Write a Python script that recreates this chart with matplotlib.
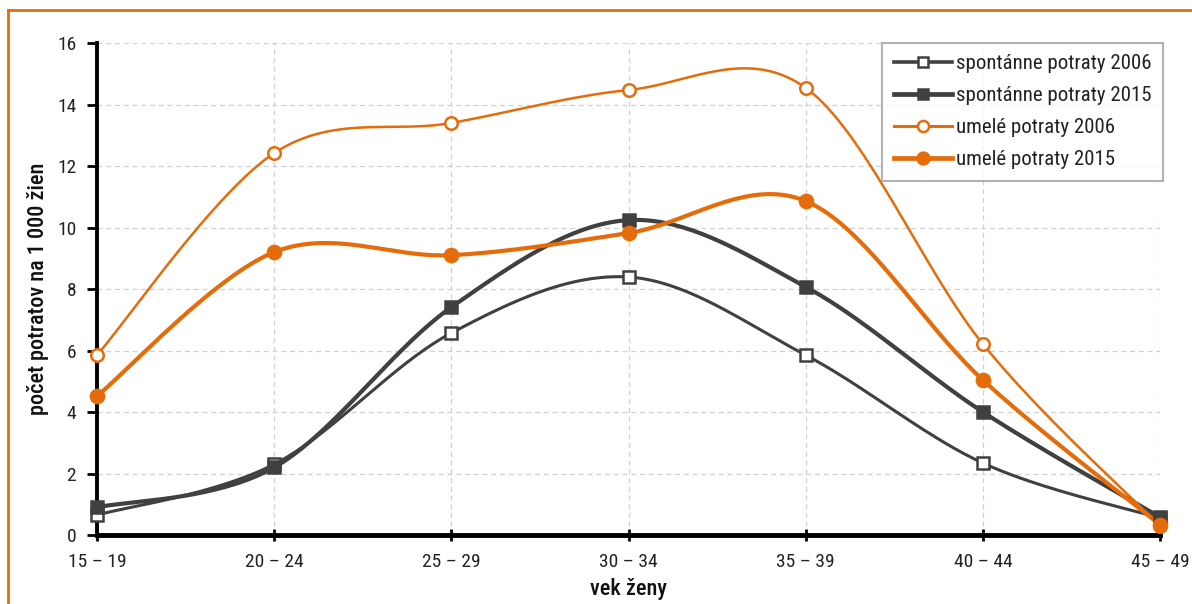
import numpy as np
import matplotlib
matplotlib.use("Agg")
import matplotlib.pyplot as plt
from matplotlib.lines import Line2D

# Data
age_groups = ["15 – 19", "20 – 24", "25 – 29", "30 – 34", "35 – 39", "40 – 44", "45 – 49"]
spont_2006 = [0.65, 2.3, 6.57, 8.39, 5.85, 2.34, 0.55]
spont_2015 = [0.9, 2.2, 7.41, 10.24, 8.07, 4.0, 0.58]
umele_2006 = [5.85, 12.42, 13.4, 14.47, 14.54, 6.21, 0.3]
umele_2015 = [4.52, 9.2, 9.1, 9.82, 10.86, 5.04, 0.33]

DARK = "#404040"
ORANGE = "#E46C0A"

plt.rcParams['font.family'] = ['Roboto Condensed', 'DejaVu Sans']


def smooth(x, y, n=40):
    # Catmull-Rom style smoothing, like the spreadsheet's "smoothed line"
    x = np.asarray(x, float)
    y = np.asarray(y, float)
    px = np.concatenate([[x[0]], x, [x[-1]]])
    py = np.concatenate([[y[0]], y, [y[-1]]])
    xs, ys = [], []
    t = np.linspace(0, 1, n)
    for i in range(1, len(px) - 2):
        p0 = np.array([px[i], py[i]])
        p3 = np.array([px[i + 1], py[i + 1]])
        c1 = p0 + (np.array([px[i + 1], py[i + 1]]) - np.array([px[i - 1], py[i - 1]])) / 6
        c2 = p3 - (np.array([px[i + 2], py[i + 2]]) - np.array([px[i], py[i]])) / 6
        b = ((1 - t) ** 3)[:, None] * p0 + (3 * (1 - t) ** 2 * t)[:, None] * c1 \
            + (3 * (1 - t) * t ** 2)[:, None] * c2 + (t ** 3)[:, None] * p3
        xs.extend(b[:, 0])
        ys.extend(b[:, 1])
    return np.array(xs), np.array(ys)


def main():
    fig = plt.figure(figsize=(11.92, 6.04), dpi=100)
    ax = fig.add_axes([0.0814, 0.1142, 0.8918, 0.8146])

    x = np.arange(len(age_groups))

    series = [
        (spont_2006, "spontánne potraty 2006", DARK, 2.2, "s", "white", 8.5),
        (spont_2015, "spontánne potraty 2015", DARK, 3.0, "s", DARK, 8.5),
        (umele_2006, "umelé potraty 2006", ORANGE, 1.8, "o", "white", 9),
        (umele_2015, "umelé potraty 2015", ORANGE, 3.0, "o", ORANGE, 9.5),
    ]

    handles = []
    for vals, label, color, lw, marker, face, ms in series:
        sx, sy = smooth(x, vals)
        ax.plot(sx, sy, color=color, lw=lw, zorder=3, clip_on=False)
        ax.plot(x, vals, ls="none", marker=marker, ms=ms, mfc=face, mec=color,
                mew=1.8, zorder=4, clip_on=False)
        handles.append(Line2D([], [], color=color, lw=lw + 0.4, marker=marker, ms=ms - 1,
                              mfc=face, mec=color, mew=1.8, label=label))

    # Axes
    ax.set_xlim(0, len(age_groups) - 1)
    ax.set_ylim(0, 16)
    ax.set_yticks(range(0, 17, 2))
    ax.set_xticks(x)
    ax.set_xticklabels(age_groups)
    ax.tick_params(axis="both", labelsize=14, colors="black", labelcolor="#222222")
    ax.tick_params(axis="y", direction="out", length=7, width=2, pad=8)
    ax.tick_params(axis="x", direction="inout", length=8, width=2, pad=9)

    for side in ["top", "right"]:
        ax.spines[side].set_visible(False)
    ax.spines["left"].set_linewidth(2.8)
    ax.spines["bottom"].set_linewidth(3.5)

    ax.grid(True, color="#D0D0D0", ls=(0, (4, 3)), lw=0.9)
    ax.set_axisbelow(True)

    ax.set_ylabel("počet potratov na 1 000 žien", fontsize=16, fontweight="medium",
                  color="#111111", labelpad=6)
    ax.set_xlabel("vek ženy", fontsize=16, fontweight="medium", color="#111111",
                  labelpad=5)

    leg = ax.legend(handles=handles, loc="upper right", bbox_to_anchor=(1.003, 1.0),
                    fontsize=15, frameon=True, fancybox=False, handlelength=2.8,
                    handletextpad=0.2, borderpad=0.55, labelspacing=0.62,
                    borderaxespad=0.0)
    leg.get_frame().set_edgecolor("#A0A0A0")
    leg.get_frame().set_linewidth(1.5)
    for t in leg.get_texts():
        t.set_color("#222222")

    # Orange frame on top and left
    fig.add_artist(Line2D([0.007, 1.0], [0.983, 0.983], color=ORANGE, lw=2,
                          transform=fig.transFigure))
    fig.add_artist(Line2D([0.007, 0.007], [0.0, 0.983], color=ORANGE, lw=2,
                          transform=fig.transFigure))

    fig.savefig("out.png", dpi=100)


if __name__ == "__main__":
    main()
